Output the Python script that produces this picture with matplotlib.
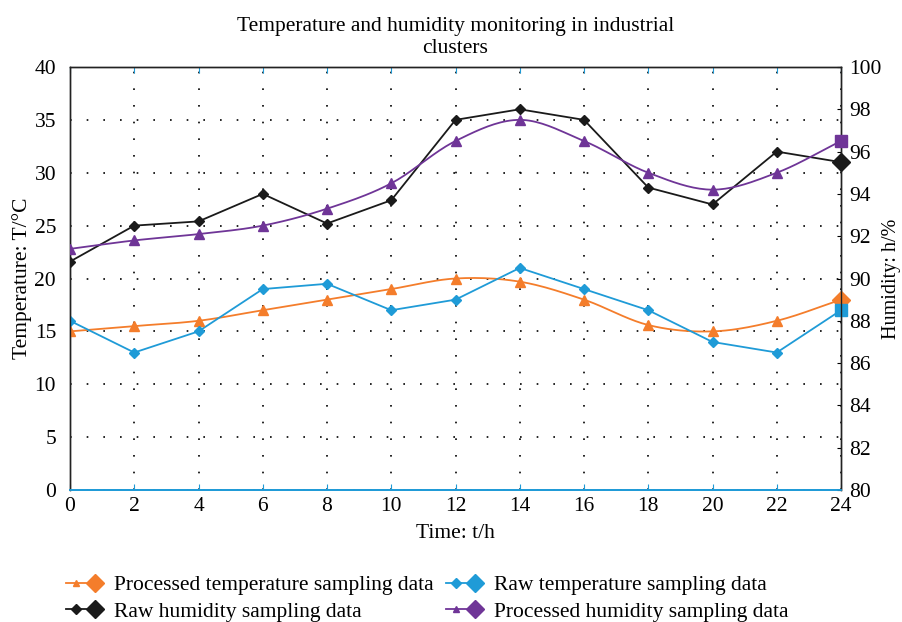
import matplotlib
matplotlib.use("Agg")
import matplotlib.pyplot as plt
from matplotlib.lines import Line2D
from matplotlib.legend_handler import HandlerTuple
import numpy as np

plt.rcParams['font.family'] = ['Liberation Serif', 'DejaVu Serif']

# data
hours = [0, 2, 4, 6, 8, 10, 12, 14, 16, 18, 20, 22, 24]
temp_processed = [15, 15.5, 16, 17, 18, 19, 20, 19.7, 18, 15.6, 15, 16, 18]
temp_raw = [16, 13, 15, 19, 19.5, 17, 18, 21, 19, 17, 14, 13, 17]
hum_raw = [90.8, 92.5, 92.7, 94, 92.6, 93.7, 97.5, 98, 97.5, 94.3, 93.5, 96, 95.5]
hum_processed = [91.4, 91.8, 92.1, 92.5, 93.3, 94.5, 96.5, 97.5, 96.5, 95, 94.2, 95, 96.5]

c_orange = '#f47d2b'
c_blue = '#1f9bd7'
c_black = '#1a1a1a'
c_purple = '#6f3597'

FS = 15.5


def smooth(x, y, n=20):
    # catmull-rom curve through the points (only used for drawing the line)
    x = np.asarray(x, float)
    y = np.asarray(y, float)
    px = np.concatenate([[2 * x[0] - x[1]], x, [2 * x[-1] - x[-2]]])
    py = np.concatenate([[2 * y[0] - y[1]], y, [2 * y[-1] - y[-2]]])
    xs, ys = [], []
    t = np.linspace(0, 1, n, endpoint=False)
    for i in range(1, len(px) - 2):
        for p, out in ((px, xs), (py, ys)):
            p0, p1, p2, p3 = p[i - 1], p[i], p[i + 1], p[i + 2]
            out.extend(0.5 * ((2 * p1) + (-p0 + p2) * t
                              + (2 * p0 - 5 * p1 + 4 * p2 - p3) * t ** 2
                              + (-p0 + 3 * p1 - 3 * p2 + p3) * t ** 3))
    xs.append(x[-1])
    ys.append(y[-1])
    return xs, ys


fig = plt.figure(figsize=(9.02, 6.22), dpi=100)
ax = fig.add_axes([0.0776, 0.2122, 0.8548, 0.6801])
ax2 = ax.twinx()

grid_style = dict(color='black', linestyle=(0, (1, 9)), linewidth=1.2)

# temperature series (left axis)
sx, sy = smooth(hours, temp_processed)
ax.plot(sx, sy, color=c_orange, lw=1.3, zorder=3)
ax.plot(hours[:-1], temp_processed[:-1], '^', color=c_orange, ms=7, zorder=4)
ax.plot(hours[-1], temp_processed[-1], 'D', color=c_orange, ms=9, zorder=5, clip_on=False)

ax.plot(hours, temp_raw, '-', color=c_blue, lw=1.3, zorder=3)
ax.plot(hours[:-1], temp_raw[:-1], 'D', color=c_blue, ms=5.5, zorder=4)
ax.plot(hours[-1], temp_raw[-1], 's', color=c_blue, ms=9, zorder=5, clip_on=False)

# humidity series (right axis)
ax2.plot(hours, hum_raw, '-', color=c_black, lw=1.3, zorder=3)
ax2.plot(hours[:-1], hum_raw[:-1], 'D', color=c_black, ms=5.5, zorder=4)
ax2.plot(hours[-1], hum_raw[-1], 'D', color=c_black, ms=9, zorder=5, clip_on=False)

sx, sy = smooth(hours, hum_processed)
ax2.plot(sx, sy, color=c_purple, lw=1.3, zorder=3)
ax2.plot(hours[:-1], hum_processed[:-1], '^', color=c_purple, ms=7, zorder=4)
ax2.plot(hours[-1], hum_processed[-1], 's', color=c_purple, ms=9, zorder=5, clip_on=False)

ax.set_xlim(0, 24)
ax.set_ylim(0, 40)
ax2.set_ylim(80, 100)
ax.set_xticks(range(0, 25, 2))
ax.set_yticks(range(0, 41, 5))
ax2.set_yticks(range(80, 101, 2))
ax.grid(True, **grid_style)
ax.set_axisbelow(True)

ax.tick_params(axis='x', direction='in', top=True, length=4, labelsize=FS, pad=5,
               color=c_blue)
ax.tick_params(axis='y', direction='in', length=0, labelsize=FS, pad=10)
ax2.tick_params(axis='y', direction='in', length=3, labelsize=FS, pad=6)

for a in (ax, ax2):
    a.spines['bottom'].set_color(c_blue)
    a.spines['bottom'].set_linewidth(1.3)
    for s in ('left', 'right', 'top'):
        a.spines[s].set_color('#222222')
        a.spines[s].set_linewidth(1.0)

ax.set_xlabel('Time: t/h', fontsize=FS, labelpad=6)
ax.set_ylabel('Temperature: T/°C', fontsize=FS, labelpad=2)
ax2.set_ylabel('Humidity: h/%', fontsize=14.5)
ax2.yaxis.set_label_coords(1.053, 0.5)
ax.set_title('Temperature and humidity monitoring in industrial\nclusters',
             fontsize=FS, pad=10, linespacing=1.25)


def handle(color, m):
    small = Line2D([], [], color=color, marker=m, ms=5, lw=1.3)
    big = Line2D([], [], color=color, marker='D', ms=9, lw=0)
    return (small, big)


handles = [handle(c_orange, '^'), handle(c_black, 'D'),
           handle(c_blue, 'D'), handle(c_purple, '^')]
labels = ['Processed temperature sampling data', 'Raw humidity sampling data',
          'Raw temperature sampling data', 'Processed humidity sampling data']
fig.legend(handles, labels, ncol=2, loc='lower left', bbox_to_anchor=(0.052, -0.031),
           frameon=False, fontsize=FS, handlelength=1.8, columnspacing=0.6,
           handletextpad=0.4, labelspacing=0.3,
           handler_map={tuple: HandlerTuple(ndivide=None, pad=0)})

fig.savefig('out.png', dpi=100)
